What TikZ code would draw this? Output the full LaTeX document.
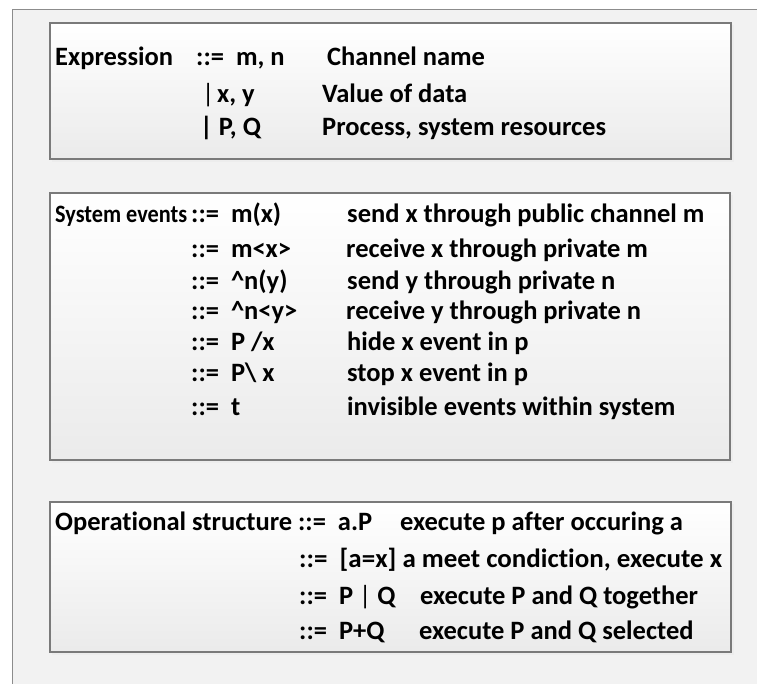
\documentclass[tikz,border=0pt]{standalone}
\usepackage{fontspec}
\usepackage{graphicx}
\setmainfont{Carlito}[Ligatures=NoCommon]
\usetikzlibrary{shadings}
\newcommand{\fitw}[2]{\resizebox{#1pt}{\height}{#2}}
\begin{document}
\begin{tikzpicture}[x=1pt,y=-1pt,
  panel/.style={draw=black!52, line width=1.2pt, top color=white, bottom color=black!8},
  shade/.style={fill=black!7},
  txt/.style={anchor=mid west, inner sep=0pt, yshift=-5pt, font=\fontsize{26.5}{30}\selectfont\bfseries},
]
\useasboundingbox (0,0) rectangle (757,684);
\fill[white] (0,0) rectangle (757,684);
\fill[black!5] (12,9.5) rectangle (757,684);
\draw[black!45, line width=1pt] (12,684) -- (12,9.5) -- (757,9.5);
% shadows
\fill[shade] (52,25) rectangle (734,162);
\fill[shade] (52,195) rectangle (733,463);
\fill[shade] (52,504) rectangle (734,655);
% panels
\draw[panel] (50,23) rectangle (731,159);
\draw[panel] (50,193) rectangle (730,460);
\draw[panel] (50,502) rectangle (731,652);

% box 1
\node[txt] (e1) at (55,58) {Expression};
\node[txt] (e2) at (196,58) {::=\ \ m, n};
\node[txt] (e4) at (327,58) {Channel name};
\node[txt] (e5) at (202,95) {\fontseries{m}\selectfont|};
\node[txt] (e6) at (217,95) {x, y};
\node[txt] (e7) at (322,95) {Value of data};
\node[txt] (e8) at (200,128) {| P, Q};
\node[txt] (e10) at (322,128) {Process, system resources};

% box 2
\node[txt, font=\fontsize{25}{29}\selectfont\bfseries] (s0) at (55,215) {\fitw{132}{System events}};
\node[txt] (s1) at (191,215) {::=\ \ m(x)};
\node[txt] (s2) at (191,250) {::=\ \ m<x>};
\node[txt] (s3) at (191,282) {::=\ \ \textasciicircum n(y)};
\node[txt] (s4) at (191,312) {::=\ \ \textasciicircum n<y>};
\node[txt] (s5) at (191,343) {::=\ \ P /x};
\node[txt] (s6) at (191,374) {::=\ \ P\textbackslash\ x};
\node[txt] (s7) at (191,408) {::=\ \ t};
\node[txt] (d1) at (347,215) {send x through public channel m};
\node[txt] (d2) at (346,250) {receive x through private m};
\node[txt] (d3) at (347,282) {send y through private n};
\node[txt] (d4) at (346,312) {receive y through private n};
\node[txt] (d5) at (347,343) {hide x event in p};
\node[txt] (d6) at (347,374) {stop x event in p};
\node[txt] (d7) at (347,408) {invisible events within system};

% box 3
\node[txt] (o0) at (55,523) {Operational structure ::=\ \ a.P};
\node[txt] (o2) at (299,560) {\fitw{423}{::=\ \ [a=x] a meet condiction, execute x}};
\node[txt] (o3) at (299,597) {::=\ \ P {\fontseries{m}\selectfont|} Q};
\node[txt] (o6) at (299,632) {::=\ \ P+Q};
\node[txt] (p1) at (400,523) {execute p after occuring a};
\node[txt] (p3) at (420,597) {execute P and Q together};
\node[txt] (p4) at (419,632) {execute P and Q selected};
\end{tikzpicture}
\end{document}
